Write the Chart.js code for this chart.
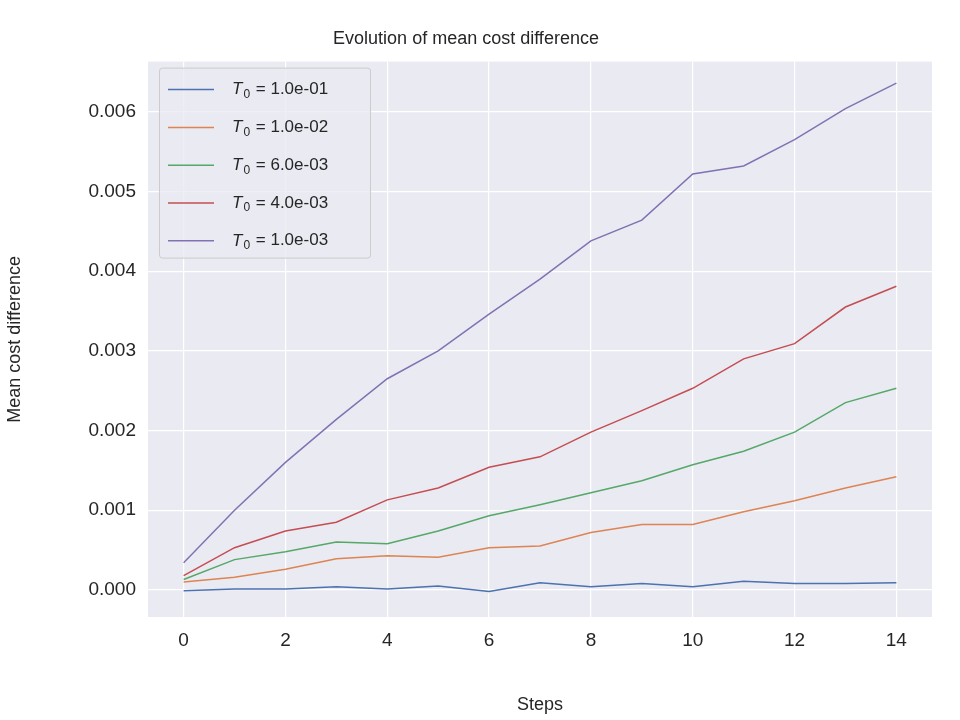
<!DOCTYPE html>
<html><head><script src="https://cdn.jsdelivr.net/npm/chart.js@4"></script>
<style>body{margin:0;background:#fff}#w{width:960px;height:720px}</style></head>
<body><div id="w"><canvas id="c"></canvas></div>
<script>
const steps=[0,1,2,3,4,5,6,7,8,9,10,11,12,13,14];
const labels=["1.0e-01","1.0e-02","6.0e-03","4.0e-03","1.0e-03"];
const colors=["#4c72b0","#dd8452","#55a868","#c44e52","#8172b3"];
const s1=[-0.00001,0.00001,0.00001,0.00004,0.00001,0.00005,-0.00002,0.00009,0.00004,0.00008,0.00004,0.00011,0.00008,0.00008,0.00009];
const s2=[0.0001,0.00016,0.00026,0.00039,0.00043,0.00041,0.00053,0.00055,0.00072,0.00082,0.00082,0.00098,0.00112,0.00128,0.00142];
const s3=[0.00013,0.00038,0.00048,0.0006,0.00058,0.00074,0.00093,0.00107,0.00122,0.00137,0.00157,0.00174,0.00198,0.00235,0.00253];
const s4=[0.00018,0.00053,0.00074,0.00085,0.00113,0.00128,0.00154,0.00167,0.00198,0.00225,0.00253,0.0029,0.00309,0.00355,0.00381];
const s5=[0.00034,0.001,0.0016,0.00214,0.00265,0.003,0.00346,0.0039,0.00438,0.00464,0.00522,0.00532,0.00565,0.00604,0.00636];
const series=[s1,s2,s3,s4,s5];
const F='"Liberation Sans", Arial, sans-serif';
const bg={id:'bg',beforeDraw(c){const a=c.chartArea,x=c.ctx;x.save();x.fillStyle='#eaeaf2';x.fillRect(a.left,a.top,a.right-a.left,a.bottom-a.top);x.restore();}};
const leg={id:'leg',afterDraw(c){const x=c.ctx,a=c.chartArea;x.save();
const L=a.left+11,T=a.top+6,W=211,H=190;
x.fillStyle='rgba(234,234,242,0.8)';x.strokeStyle='#cccccc';x.lineWidth=1;
x.beginPath();x.roundRect(L+0.5,T+0.5,W,H,3);x.fill();x.stroke();
labels.forEach((lb,i)=>{const y=T+22+i*37.8;
x.strokeStyle=colors[i];x.lineWidth=1.5;x.beginPath();x.moveTo(L+9,y);x.lineTo(L+55,y);x.stroke();
x.fillStyle='#262626';x.textBaseline='middle';
x.font='italic 17px '+F;x.fillText('T',L+73,y);let w=x.measureText('T').width;
x.font='12px '+F;x.fillText('0',L+73+w+1,y+5);let w2=x.measureText('0').width;
x.font='17px '+F;x.fillText(' = '+lb,L+73+w+w2+2,y);});
x.restore();}};
new Chart(document.getElementById('c'),{type:'line',
data:{datasets:series.map((s,i)=>({label:labels[i],data:s.map((v,j)=>({x:steps[j],y:v})),borderColor:colors[i],borderWidth:1.5,pointRadius:0,tension:0,fill:false}))},
options:{responsive:true,maintainAspectRatio:false,animation:false,
layout:{padding:{left:0,right:28,top:14,bottom:0}},
plugins:{legend:{display:false},tooltip:{enabled:false},title:{display:true,text:'Evolution of mean cost difference',color:'#262626',font:{family:F,size:18,weight:'normal'},padding:{top:14,bottom:12}}},
scales:{
x:{type:'linear',min:-0.7,max:14.7,afterBuildTicks(s){s.ticks=[0,2,4,6,8,10,12,14].map(v=>({value:v}));},
afterFit(s){s.height=103;},
grid:{color:'#ffffff',lineWidth:1.2,drawTicks:false},border:{display:false},
ticks:{padding:12,color:'#262626',font:{family:F,size:19},callback:v=>String(v)},
title:{display:true,text:'Steps',color:'#262626',font:{family:F,size:18},padding:{top:6}}},
y:{min:-0.00034,max:0.00663,afterBuildTicks(s){s.ticks=[0,0.001,0.002,0.003,0.004,0.005,0.006].map(v=>({value:v}));},
afterFit(s){s.width=148;},
grid:{color:'#ffffff',lineWidth:1.2,drawTicks:false},border:{display:false},
ticks:{padding:12,color:'#262626',font:{family:F,size:19},callback:v=>v.toFixed(3)},
title:{display:true,text:'Mean cost difference',color:'#262626',font:{family:F,size:18},padding:{bottom:6}}}}},
plugins:[bg,leg]});
</script></body></html>
